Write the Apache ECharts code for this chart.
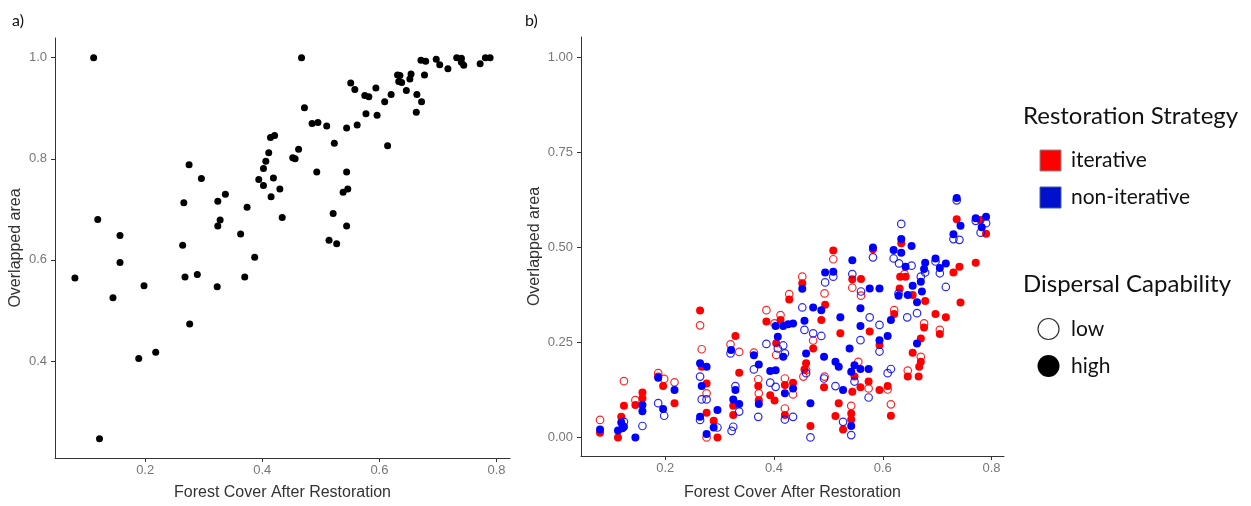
<!DOCTYPE html>
<html>
<head>
<meta charset="UTF-8">
<title></title>
<script src="https://cdn.jsdelivr.net/npm/echarts@6/dist/echarts.min.js"></script>
<style>
	html, body {
		width: 100%;
		height: 100%;
		margin: 0;
		padding: 0;
		background: #fff;
	}
	#chart {
		width: 1251px;
		height: 506px;
	}
</style>
</head>
<body>
<div id="chart"></div>
<script>
// panel a: overlapped area vs forest cover
var coverA = [0.112, 0.467, 0.122, 0.080, 0.119, 0.145, 0.157, 0.157, 0.189, 0.198, 0.218, 0.264, 0.266, 0.268, 0.275,
	0.276, 0.289, 0.296, 0.323, 0.324, 0.324, 0.328, 0.337, 0.363, 0.370, 0.374, 0.387, 0.394, 0.402, 0.402, 0.406,
	0.411, 0.414, 0.421, 0.415, 0.419, 0.430, 0.434, 0.452, 0.456, 0.462, 0.472, 0.485, 0.495, 0.493, 0.510, 0.514,
	0.521, 0.523, 0.527, 0.538, 0.544, 0.544, 0.544, 0.546, 0.551, 0.558, 0.562, 0.575, 0.582, 0.577, 0.594, 0.596,
	0.609, 0.614, 0.620, 0.631, 0.635, 0.633, 0.638, 0.646, 0.654, 0.652, 0.663, 0.664, 0.671, 0.672, 0.679, 0.677,
	0.697, 0.703, 0.717, 0.732, 0.740, 0.740, 0.744, 0.772, 0.781, 0.789];
var overlapA = [1.0, 1.0, 0.246, 0.564, 0.680, 0.525, 0.648, 0.595, 0.405, 0.549, 0.417, 0.629, 0.713, 0.566, 0.788,
	0.473, 0.571, 0.761, 0.547, 0.716, 0.667, 0.679, 0.730, 0.651, 0.566, 0.704, 0.605, 0.759, 0.781, 0.747, 0.795,
	0.812, 0.842, 0.846, 0.725, 0.762, 0.740, 0.684, 0.802, 0.800, 0.819, 0.901, 0.870, 0.872, 0.774, 0.865, 0.639,
	0.692, 0.831, 0.632, 0.734, 0.861, 0.774, 0.667, 0.740, 0.950, 0.937, 0.867, 0.925, 0.923, 0.889, 0.940, 0.886,
	0.913, 0.826, 0.927, 0.966, 0.965, 0.953, 0.951, 0.935, 0.968, 0.958, 0.892, 0.927, 0.995, 0.913, 0.993, 0.966,
	0.997, 0.986, 0.978, 1.0, 0.999, 0.991, 0.985, 0.988, 1.0, 1.0];

// panel b: [forest cover, overlapped area] per strategy / dispersal group
var iterativeLow = [[0.080, 0.046], [0.124, 0.148], [0.145, 0.098], [0.187, 0.169], [0.198, 0.154], [0.217, 0.145],
	[0.264, 0.295], [0.267, 0.232], [0.276, 0.116], [0.276, 0.0], [0.320, 0.245], [0.336, 0.225], [0.363, 0.223],
	[0.371, 0.153], [0.372, 0.116], [0.386, 0.335], [0.401, 0.300], [0.404, 0.217], [0.412, 0.322], [0.420, 0.155],
	[0.420, 0.076], [0.428, 0.377], [0.435, 0.113], [0.452, 0.423], [0.459, 0.177], [0.454, 0.160], [0.472, 0.255],
	[0.493, 0.379], [0.493, 0.160], [0.509, 0.469], [0.544, 0.394], [0.542, 0.083], [0.555, 0.199], [0.560, 0.373],
	[0.574, 0.129], [0.609, 0.126], [0.615, 0.087], [0.621, 0.335], [0.640, 0.430], [0.646, 0.176], [0.676, 0.300],
	[0.670, 0.212], [0.705, 0.283]];
var iterativeHigh = [[0.080, 0.012], [0.113, 0.0], [0.124, 0.083], [0.119, 0.054], [0.145, 0.085], [0.158, 0.118],
	[0.158, 0.103], [0.187, 0.160], [0.196, 0.135], [0.217, 0.090], [0.264, 0.334], [0.267, 0.186], [0.276, 0.142],
	[0.276, 0.065], [0.289, 0.044], [0.296, 0.0], [0.329, 0.267], [0.336, 0.170], [0.325, 0.083], [0.325, 0.059],
	[0.371, 0.135], [0.372, 0.098], [0.386, 0.305], [0.393, 0.111], [0.401, 0.097], [0.404, 0.248], [0.412, 0.309],
	[0.420, 0.138], [0.420, 0.059], [0.428, 0.363], [0.435, 0.144], [0.452, 0.406], [0.459, 0.195], [0.456, 0.179],
	[0.472, 0.234], [0.467, 0.030], [0.487, 0.309], [0.494, 0.349], [0.492, 0.132], [0.509, 0.492], [0.513, 0.056],
	[0.522, 0.274], [0.519, 0.090], [0.527, 0.021], [0.544, 0.416], [0.544, 0.120], [0.542, 0.063], [0.542, 0.047],
	[0.548, 0.160], [0.560, 0.417], [0.559, 0.132], [0.576, 0.279], [0.574, 0.147], [0.582, 0.495], [0.594, 0.243],
	[0.594, 0.125], [0.609, 0.135], [0.615, 0.057], [0.621, 0.325], [0.634, 0.511], [0.632, 0.423], [0.631, 0.392],
	[0.642, 0.423], [0.646, 0.160], [0.655, 0.375], [0.655, 0.223], [0.667, 0.186], [0.666, 0.160], [0.678, 0.359],
	[0.676, 0.289], [0.670, 0.260], [0.670, 0.199], [0.697, 0.325], [0.705, 0.272], [0.716, 0.316], [0.736, 0.574],
	[0.730, 0.434], [0.741, 0.449], [0.743, 0.355], [0.771, 0.460], [0.780, 0.572], [0.790, 0.536]];
var nonIterLow = [[0.124, 0.041], [0.158, 0.030], [0.187, 0.090], [0.198, 0.057], [0.264, 0.160], [0.264, 0.046],
	[0.267, 0.100], [0.276, 0.100], [0.296, 0.026], [0.320, 0.221], [0.325, 0.028], [0.322, 0.017], [0.329, 0.135],
	[0.336, 0.068], [0.363, 0.179], [0.371, 0.054], [0.386, 0.246], [0.393, 0.144], [0.403, 0.133], [0.407, 0.234],
	[0.417, 0.242], [0.420, 0.221], [0.420, 0.047], [0.435, 0.054], [0.452, 0.342], [0.456, 0.283], [0.459, 0.169],
	[0.472, 0.274], [0.467, 0.0], [0.487, 0.267], [0.494, 0.408], [0.492, 0.155], [0.509, 0.423], [0.513, 0.135],
	[0.527, 0.041], [0.544, 0.430], [0.542, 0.006], [0.548, 0.147], [0.560, 0.384], [0.559, 0.256], [0.576, 0.316],
	[0.574, 0.105], [0.582, 0.474], [0.594, 0.296], [0.594, 0.226], [0.609, 0.169], [0.615, 0.180], [0.620, 0.471],
	[0.634, 0.562], [0.630, 0.458], [0.629, 0.379], [0.645, 0.316], [0.653, 0.452], [0.663, 0.327], [0.670, 0.423],
	[0.678, 0.434], [0.697, 0.463], [0.705, 0.432], [0.716, 0.396], [0.736, 0.624], [0.730, 0.522], [0.741, 0.520],
	[0.771, 0.570], [0.780, 0.539], [0.790, 0.564]];
var nonIterHigh = [[0.080, 0.021], [0.113, 0.018], [0.119, 0.039], [0.124, 0.028], [0.121, 0.024], [0.145, 0.0],
	[0.158, 0.085], [0.158, 0.069], [0.187, 0.157], [0.196, 0.075], [0.217, 0.125], [0.264, 0.195], [0.264, 0.054],
	[0.267, 0.135], [0.276, 0.186], [0.276, 0.009], [0.289, 0.026], [0.296, 0.072], [0.321, 0.230], [0.325, 0.100],
	[0.329, 0.125], [0.336, 0.088], [0.363, 0.216], [0.372, 0.192], [0.372, 0.088], [0.393, 0.175], [0.403, 0.177],
	[0.403, 0.293], [0.407, 0.265], [0.417, 0.293], [0.426, 0.298], [0.435, 0.300], [0.417, 0.212], [0.420, 0.116],
	[0.435, 0.129], [0.452, 0.391], [0.456, 0.307], [0.459, 0.221], [0.472, 0.342], [0.467, 0.090], [0.487, 0.335],
	[0.494, 0.434], [0.492, 0.212], [0.509, 0.436], [0.513, 0.199], [0.519, 0.186], [0.522, 0.316], [0.527, 0.125],
	[0.539, 0.234], [0.544, 0.466], [0.542, 0.173], [0.548, 0.190], [0.542, 0.030], [0.559, 0.340], [0.559, 0.293],
	[0.559, 0.180], [0.576, 0.392], [0.574, 0.180], [0.582, 0.500], [0.594, 0.392], [0.594, 0.256], [0.609, 0.267],
	[0.615, 0.309], [0.620, 0.493], [0.634, 0.522], [0.634, 0.486], [0.629, 0.373], [0.642, 0.449], [0.646, 0.375],
	[0.653, 0.504], [0.655, 0.399], [0.663, 0.356], [0.663, 0.247], [0.670, 0.410], [0.672, 0.384], [0.678, 0.460],
	[0.676, 0.443], [0.697, 0.471], [0.705, 0.446], [0.716, 0.458], [0.736, 0.630], [0.730, 0.535], [0.743, 0.557],
	[0.771, 0.577], [0.782, 0.553], [0.790, 0.581]];

var xTicks = [0.2, 0.4, 0.6, 0.8];
var yTicksA = [0.4, 0.6, 0.8, 1.0];
var yTicksB = [0, 0.25, 0.5, 0.75, 1.0];

var RED = '#FF0000';
var BLUE = '#0000FF';
var axisFont = 'Liberation Sans, Arial, sans-serif';
var legendFont = 'Lato, Open Sans, sans-serif';

function makeAxis(ticks, min, max, digits, name, gap, isY) {
	return {
		type: 'value',
		min: min,
		max: max,
		name: name,
		nameLocation: 'middle',
		nameGap: gap,
		nameTextStyle: { color: '#333', fontSize: 16, fontFamily: axisFont },
		splitLine: { show: false },
		axisLine: { show: true, onZero: false, lineStyle: { color: '#333', width: 1 } },
		axisTick: { show: true, length: 4, lineStyle: { color: '#333' }, customValues: ticks },
		axisLabel: {
			color: '#777', fontSize: 13, fontFamily: axisFont,
			margin: isY ? 8 : 6,
			customValues: ticks,
			formatter: function (v) { return v.toFixed(digits); }
		}
	};
}

var pairsA = coverA.map(function (c, i) { return [c, overlapA[i]]; });

function openSeries(data, color) {
	return {
		type: 'scatter', xAxisIndex: 1, yAxisIndex: 1, symbol: 'circle', symbolSize: 7.5,
		itemStyle: { color: 'rgba(255,255,255,0)', borderColor: color, borderWidth: 1.2, opacity: 0.85 },
		data: data, silent: true
	};
}
function fillSeries(data, color) {
	return {
		type: 'scatter', xAxisIndex: 1, yAxisIndex: 1, symbol: 'circle', symbolSize: 8,
		itemStyle: { color: color, opacity: 1 }, data: data, silent: true
	};
}

function label(x, y, text, size) {
	return {
		type: 'text',
		style: { x: x, y: y, text: text, font: size + 'px ' + legendFont, fill: '#111', verticalAlign: 'middle' }
	};
}

var myChart = echarts.init(document.getElementById('chart'));
var option = {
	animation: false,
	backgroundColor: '#fff',
	grid: [
		{ left: 55, top: 38, width: 455, height: 420 },
		{ left: 581, top: 37, width: 423, height: 419 }
	],
	xAxis: [
		Object.assign(makeAxis(xTicks, 0.046, 0.823, 1, 'Forest Cover After Restoration', 27, false), { gridIndex: 0 }),
		Object.assign(makeAxis(xTicks, 0.045, 0.823, 1, 'Forest Cover After Restoration', 29, false), { gridIndex: 1 })
	],
	yAxis: [
		Object.assign(makeAxis(yTicksA, 0.208, 1.039, 1, 'Overlapped area', 31, true), { gridIndex: 0 }),
		Object.assign(makeAxis(yTicksB, -0.049, 1.054, 2, 'Overlapped area', 38, true), { gridIndex: 1 })
	],
	series: [
		{
			type: 'scatter', xAxisIndex: 0, yAxisIndex: 0, symbol: 'circle', symbolSize: 7,
			itemStyle: { color: '#000', opacity: 1 }, data: pairsA, silent: true
		},
		openSeries(iterativeLow, RED),
		fillSeries(iterativeHigh, RED),
		openSeries(nonIterLow, BLUE),
		fillSeries(nonIterHigh, BLUE)
	],
	graphic: [
		label(12, 21, 'a)', 16),
		label(525, 21, 'b)', 16),
		label(1023, 116, 'Restoration Strategy', 24),
		{ type: 'rect', shape: { x: 1040, y: 150, width: 21, height: 21 }, style: { fill: RED, stroke: '#8a8a8a', lineWidth: 1 } },
		label(1071, 160, 'iterative', 21),
		{ type: 'rect', shape: { x: 1040, y: 187, width: 21, height: 21 }, style: { fill: '#0010CC', stroke: '#4060a0', lineWidth: 1 } },
		label(1071, 197, 'non-iterative', 21),
		label(1023, 284, 'Dispersal Capability', 24),
		{ type: 'circle', shape: { cx: 1048.5, cy: 329, r: 10.5 }, style: { fill: '#fff', stroke: '#333', lineWidth: 1.2 } },
		label(1071, 329, 'low', 21),
		{ type: 'circle', shape: { cx: 1048.5, cy: 366, r: 11 }, style: { fill: '#000' } },
		label(1071, 366, 'high', 21)
	]
};
myChart.setOption(option);
</script>
</body>
</html>
